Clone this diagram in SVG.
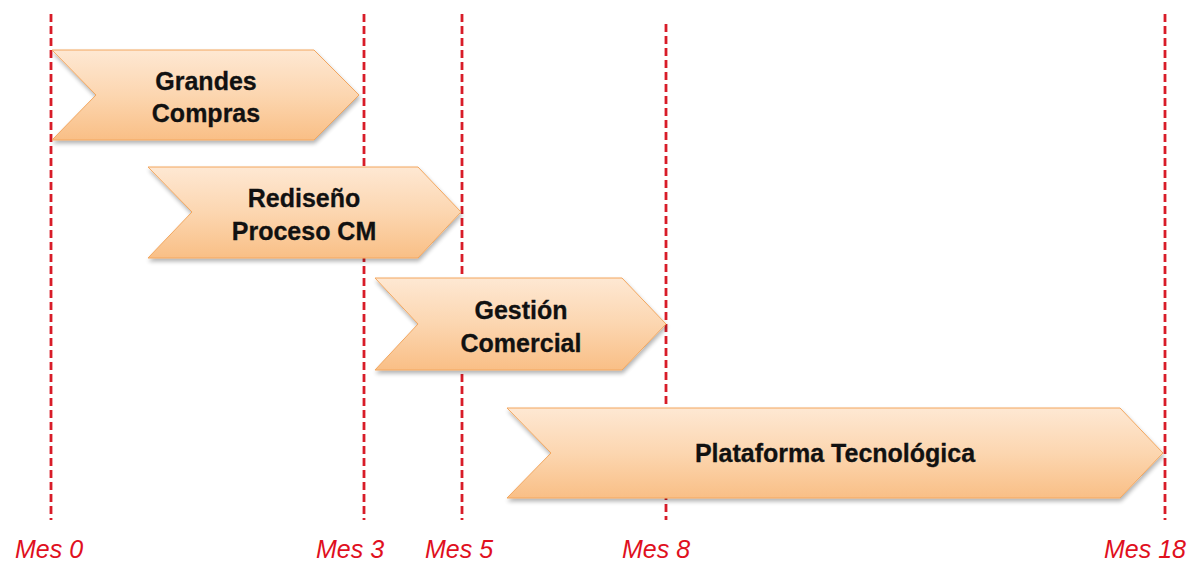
<svg xmlns="http://www.w3.org/2000/svg" width="1196" height="561" viewBox="0 0 1196 561">
  <defs>
    <linearGradient id="peach" x1="0" y1="0" x2="0" y2="1">
      <stop offset="0" stop-color="#fee8d3"/>
      <stop offset="0.5" stop-color="#fcd6b0"/>
      <stop offset="1" stop-color="#f9bf86"/>
    </linearGradient>
    <filter id="shadow" x="-5%" y="-10%" width="110%" height="130%">
      <feGaussianBlur in="SourceAlpha" stdDeviation="2"/>
      <feOffset dx="1" dy="3" result="b"/>
      <feComponentTransfer><feFuncA type="linear" slope="0.3"/></feComponentTransfer>
      <feMerge><feMergeNode/><feMergeNode in="SourceGraphic"/></feMerge>
    </filter>
  </defs>
  <style>
    .milestone { stroke: #d81c28; stroke-width: 2.8; stroke-dasharray: 8 4; fill: none; }
    .phase { fill: url(#peach); stroke: #f2a65e; stroke-width: 1; filter: url(#shadow); }
    .label { font-family: "Liberation Sans", Arial, sans-serif; font-weight: bold; font-size: 25px; fill: #111; stroke: #111; stroke-width: 0.3; text-anchor: middle; }
    .month { font-family: "Liberation Sans", Arial, sans-serif; font-style: italic; font-size: 25px; fill: #e0101e; }
  </style>

  <rect width="1196" height="561" fill="#ffffff"/>

  <!-- month markers -->
  <g id="milestones">
    <line class="milestone" x1="51" y1="14" x2="51" y2="520"/>
    <line class="milestone" x1="364" y1="14" x2="364" y2="520"/>
    <line class="milestone" x1="462" y1="14" x2="462" y2="520"/>
    <line class="milestone" x1="666" y1="24" x2="666" y2="520"/>
    <line class="milestone" x1="1165" y1="14" x2="1165" y2="520"/>
  </g>

  <!-- phases -->
  <g id="grandes-compras">
    <polygon class="phase" points="52,50 314,50 359,95 314,140 52,140 96,95"/>
    <text class="label" x="206" y="90">Grandes</text>
    <text class="label" x="206" y="122">Compras</text>
  </g>

  <g id="rediseno-proceso">
    <polygon class="phase" points="148,167 418,167 461,212 418,258 148,258 192,212"/>
    <text class="label" x="304" y="207">Rediseño</text>
    <text class="label" x="304" y="240">Proceso CM</text>
  </g>

  <g id="gestion-comercial">
    <polygon class="phase" points="375,278 622,278 666,324 622,370 375,370 418,324"/>
    <text class="label" x="521" y="319">Gestión</text>
    <text class="label" x="521" y="352">Comercial</text>
  </g>

  <g id="plataforma-tecnologica">
    <polygon class="phase" points="507,408 1120,408 1163,453 1120,498 507,498 551,453"/>
    <text class="label" x="835" y="462">Plataforma Tecnológica</text>
  </g>

  <!-- month labels -->
  <g id="month-labels">
    <text class="month" x="15" y="558">Mes 0</text>
    <text class="month" x="316" y="558">Mes 3</text>
    <text class="month" x="425" y="558">Mes 5</text>
    <text class="month" x="622" y="558">Mes 8</text>
    <text class="month" x="1104" y="558">Mes 18</text>
  </g>
</svg>
